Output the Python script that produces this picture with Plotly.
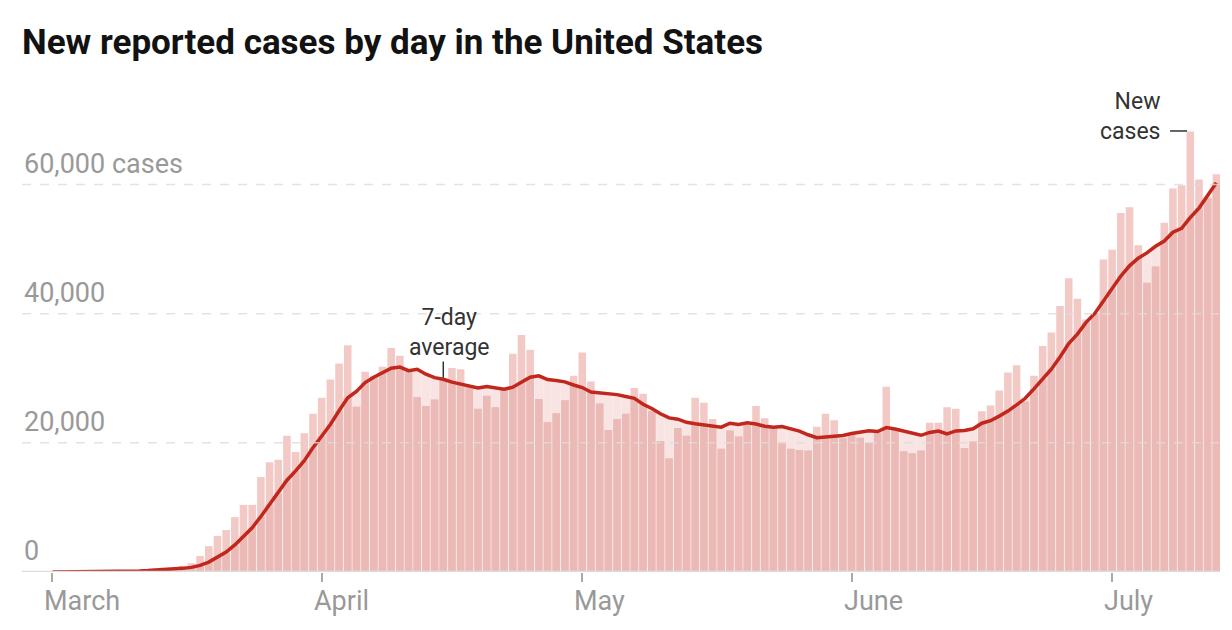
import pandas as pd
import plotly.graph_objects as go

# daily new cases (thousands)
march_cases = [0.01, 0.02, 0.02, 0.03, 0.06, 0.07, 0.1, 0.12, 0.18, 0.28,
               0.3, 0.45, 0.55, 0.65, 0.75, 0.95, 1.35, 2.5, 4.0, 5.6,
               6.5, 8.5, 10.4, 10.4, 14.7, 17.0, 17.4, 21.1, 18.6, 21.5, 24.5]
april_cases = [27.0, 29.8, 32.3, 35.1, 25.6, 31.0, 30.4, 31.8, 34.7, 33.5,
               31.2, 27.1, 25.7, 26.7, 30.0, 31.6, 31.4, 28.8, 25.3, 27.3,
               25.5, 28.2, 33.8, 36.7, 34.4, 26.8, 23.2, 24.6, 26.6, 30.4]
may_cases = [34.0, 29.5, 26.1, 22.0, 23.7, 24.5, 28.5, 27.6, 24.9, 20.3,
             17.6, 22.3, 21.1, 27.0, 26.2, 23.7, 19.1, 21.9, 21.0, 22.8,
             25.7, 23.8, 22.5, 20.0, 19.1, 18.9, 18.8, 22.5, 24.5, 23.5, 20.7]
june_cases = [21.2, 20.8, 20.0, 21.6, 28.7, 22.0, 18.7, 18.4, 18.8, 23.1,
              23.1, 25.5, 25.3, 19.2, 20.2, 24.9, 25.8, 28.1, 30.9, 32.0,
              26.4, 30.4, 35.0, 37.1, 41.2, 45.5, 42.3, 39.1, 40.1, 48.4]
july_cases = [49.9, 55.6, 56.5, 50.6, 44.8, 47.3, 54.1, 59.4, 59.9, 68.2,
              60.8, 57.9, 61.6]

months = ["March", "April", "May", "June", "July"]
month_starts = ["2020-03-01", "2020-04-01", "2020-05-01", "2020-06-01", "2020-07-01"]
ytick_vals = [0, 20000, 40000, 60000]
ytick_text = ["0", "20,000", "40,000", "60,000 cases"]

cases = [v * 1000 for v in march_cases + april_cases + may_cases + june_cases + july_cases]
df = pd.DataFrame({"date": pd.date_range("2020-03-01", periods=len(cases)), "cases": cases})
df["avg"] = df["cases"].rolling(7, min_periods=1).mean()
df["low"] = df[["cases", "avg"]].min(axis=1)

red = "#c1271d"
grey = "#999999"
font = "Roboto"
day = 86400000

fig = go.Figure()

# light fill under the average
fig.add_trace(go.Bar(x=df["date"], y=df["avg"], width=day, marker_color="#f8e5e3",
                     marker_line_width=0, hoverinfo="skip"))
# bars: lighter above the average, darker below
fig.add_trace(go.Bar(x=df["date"], y=df["cases"], marker_color="#f2c9c5",
                     marker_line_width=0, name="New cases"))
fig.add_trace(go.Bar(x=df["date"], y=df["low"], marker_color="#ebbab6",
                     marker_line_width=0, hoverinfo="skip"))
fig.add_trace(go.Scatter(x=df["date"], y=df["avg"], mode="lines",
                         line=dict(color=red, width=3.5), name="7-day average"))

annots = []
for v, t in zip(ytick_vals, ytick_text):
    annots.append(dict(x=0, xref="paper", xanchor="left", y=v, yref="y", yanchor="middle",
                       yshift=21, text=t, showarrow=False,
                       font=dict(family=font, size=27, color=grey)))
for m, d in zip(months, month_starts):
    annots.append(dict(x=d, xref="x", xanchor="left", xshift=-10, y=0, yref="paper",
                       yanchor="top", yshift=-11, text=m, showarrow=False,
                       font=dict(family=font, size=27, color=grey)))

annots.append(dict(x="2020-04-15", y=37100, xanchor="center", yanchor="middle", xshift=6,
                   text="7-day<br>average", showarrow=False,
                   font=dict(family=font, size=23, color="#333333")))
annots.append(dict(x="2020-07-07 16:00", y=68300, xanchor="right", yanchor="middle",
                   xshift=-7, yshift=14, text="New<br>cases", align="right",
                   showarrow=False, font=dict(family=font, size=23, color="#333333")))

shapes = []
for v in ytick_vals[1:]:
    shapes.append(dict(type="line", xref="paper", x0=0, x1=1, y0=v, y1=v, layer="above",
                       line=dict(color="#dddddd", width=1.5, dash="dash"), opacity=0.8))
shapes.append(dict(type="line", xref="paper", x0=0, x1=1, y0=0, y1=0, layer="above",
                   line=dict(color="#dddddd", width=2.5)))
shapes.append(dict(type="line", x0="2020-04-15", x1="2020-04-15", y0=30100, y1=32600,
                   line=dict(color="#333333", width=1.5)))
shapes.append(dict(type="line", x0="2020-07-07 16:00", x1="2020-07-09 15:00", y0=68300,
                   y1=68300, line=dict(color="#333333", width=1.5)))

# the page adds an 8px body margin, so everything sits 8px up/left of the reference
fig.update_layout(
    width=1232, height=630,
    margin=dict(l=14, r=20, t=112, b=66),
    paper_bgcolor="white", plot_bgcolor="white",
    barmode="overlay", bargap=0.13,
    showlegend=False,
    title=dict(text="New reported cases by day in the United States", x=0, xref="paper",
               xanchor="left", y=1 - 34 / 630, yref="container", yanchor="middle",
               font=dict(family=font, size=35, color="#121212", weight="bold")),
    xaxis=dict(range=["2020-02-26 12:00", "2020-07-13 10:00"], tickvals=month_starts,
               showticklabels=False, ticks="outside", ticklen=9, tickwidth=2,
               tickcolor="#aaaaaa", showgrid=False, zeroline=False, showline=False),
    yaxis=dict(range=[0, 70000], showgrid=False, zeroline=False, showticklabels=False,
               showline=False),
    annotations=annots,
    shapes=shapes,
)

fig.write_html("out.html")
